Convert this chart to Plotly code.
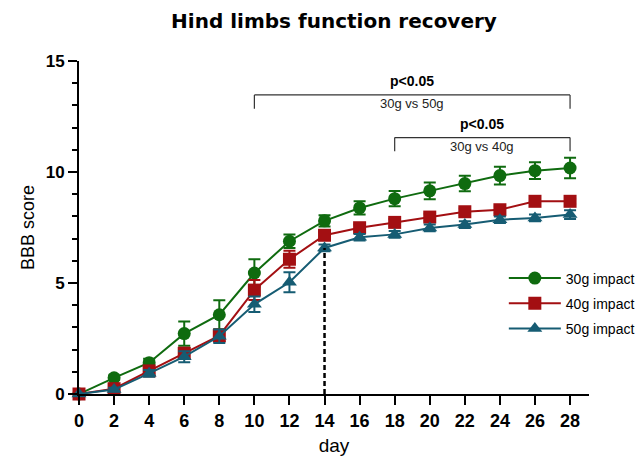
import plotly.graph_objects as go

# Hind-limb BBB scores over 28 days for three impact weights (mean ± SEM)
days = [0, 2, 4, 6, 8, 10, 12, 14, 16, 18, 20, 22, 24, 26, 28]

score_30g = [0, 0.73, 1.41, 2.72, 3.57, 5.45, 6.88, 7.80, 8.38, 8.80, 9.15, 9.48, 9.84, 10.06, 10.18]
err_30g = [0, 0.10, 0.18, 0.55, 0.65, 0.62, 0.30, 0.25, 0.30, 0.34, 0.38, 0.35, 0.40, 0.38, 0.46]

score_40g = [0, 0.24, 1.04, 1.83, 2.63, 4.68, 6.07, 7.15, 7.49, 7.73, 7.97, 8.21, 8.30, 8.68, 8.68]
err_40g = [0, 0.08, 0.12, 0.25, 0.28, 0.45, 0.38, 0.15, 0.15, 0.15, 0.15, 0.15, 0.15, 0.12, 0.12]

score_50g = [0, 0.20, 0.93, 1.68, 2.60, 4.04, 5.03, 6.58, 7.06, 7.19, 7.48, 7.63, 7.85, 7.93, 8.08]
err_50g = [0, 0.08, 0.15, 0.25, 0.30, 0.35, 0.45, 0.15, 0.15, 0.15, 0.15, 0.15, 0.15, 0.15, 0.20]

series_names = ["30g impact", "40g impact", "50g impact"]
colors = ["#0F6B0F", "#A30F12", "#165C73"]
symbols = ["circle", "square", "triangle-up"]
sizes = [13, 13, 13]

# Significance brackets: (start day, end day, bracket height, label, comparison)
brackets = [
    (10, 28, 13.47, "p<0.05", "30g vs 50g"),
    (18, 28, 11.55, "p<0.05", "30g vs 40g"),
]

# Vertical marker at day 14
mark_day = 14

FONT = "Liberation Sans, Arial, sans-serif"

fig = go.Figure()
for name, ys, es, c, s, sz in zip(series_names,
                                  [score_30g, score_40g, score_50g],
                                  [err_30g, err_40g, err_50g],
                                  colors, symbols, sizes):
    fig.add_trace(go.Scatter(
        x=days, y=ys, name=name, mode="lines+markers", legendgroup=name,
        line=dict(color=c, width=2),
        marker=dict(symbol=s, size=sz, color=c, line=dict(width=0)),
        error_y=dict(type="data", array=es, visible=True, color=c,
                     thickness=2, width=6),
        cliponaxis=False,
    ))

shapes = []
# dashed line from the axis up to the 50g point at day 14
shapes.append(dict(type="line", xref="x", yref="y",
                   x0=mark_day, x1=mark_day, y0=0,
                   y1=score_50g[days.index(mark_day)],
                   line=dict(color="black", width=2.5, dash="5px,3px")))

annotations = []
for x0, x1, yb, ptxt, ctxt in brackets:
    drop = 0.62
    for xa, ya, xb, yb2 in [(x0, yb, x1, yb), (x0, yb, x0, yb - drop), (x1, yb, x1, yb - drop)]:
        shapes.append(dict(type="line", xref="x", yref="y",
                           x0=xa, y0=ya, x1=xb, y1=yb2,
                           line=dict(color="#333333", width=1.2)))
    xm = (x0 + x1) / 2
    annotations.append(dict(x=xm, y=yb + 0.62, xref="x", yref="y", text="<b>" + ptxt + "</b>",
                            showarrow=False, font=dict(family=FONT, size=14, color="black")))
    annotations.append(dict(x=xm, y=yb - 0.38, xref="x", yref="y", text=ctxt,
                            showarrow=False, font=dict(family=FONT, size=13, color="#222222")))

fig.update_layout(
    width=638, height=456,
    margin=dict(l=79, r=49, t=61, b=62, autoexpand=False),
    plot_bgcolor="white", paper_bgcolor="white",
    title=dict(text="<b>Hind limbs function recovery</b>", x=0.5, xanchor="center",
               y=0.955, yanchor="middle", xref="paper",
               font=dict(family="DejaVu Sans, sans-serif", size=20, color="black")),
    xaxis=dict(range=[0, 29.08], tickvals=days, ticktext=[str(d) for d in days],
               automargin=False,
               showgrid=False, zeroline=False, showline=True, linecolor="black", linewidth=2,
               ticks="outside", ticklen=9, tickwidth=2, tickcolor="black",
               tickfont=dict(family=FONT, size=18, color="black", weight="bold"),
               title=dict(text="day", font=dict(family=FONT, size=19, color="black"), standoff=12)),
    yaxis=dict(range=[0, 15], tickvals=[0, 5, 10, 15],
               automargin=False,
               showgrid=False, zeroline=False, showline=True, linecolor="black", linewidth=2,
               ticks="outside", ticklen=9, tickwidth=2, tickcolor="black",
               tickfont=dict(family=FONT, size=17, color="black", weight="bold"),
               minor=dict(dtick=1, ticks="outside", ticklen=5, tickwidth=1.5, tickcolor="black"),
               title=dict(text="BBB score", font=dict(family=FONT, size=18, color="black"), standoff=6)),
    legend=dict(x=0.833, y=0.395, xanchor="left", yanchor="top",
                font=dict(family=FONT, size=14, color="black"),
                bgcolor="rgba(0,0,0,0)", itemwidth=52, tracegroupgap=4),
    shapes=shapes,
    annotations=annotations,
)

fig.write_html("out.html")
